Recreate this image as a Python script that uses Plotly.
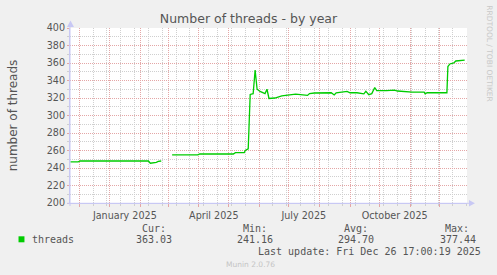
import plotly.graph_objects as go

# ---------------- data ----------------
dates = [
    "2024-11-22", "2024-11-30", "2024-12-02", "2025-01-15", "2025-02-09",
    "2025-02-11", "2025-02-14", "2025-02-17", "2025-02-19", "2025-02-22",
    "2025-02-27",
    "2025-03-05", "2025-03-31", "2025-04-02", "2025-05-06", "2025-05-08",
    "2025-05-17", "2025-05-18", "2025-05-20", "2025-05-21", "2025-05-23",
    "2025-05-26", "2025-05-28", "2025-05-30", "2025-06-02", "2025-06-05",
    "2025-06-07", "2025-06-09", "2025-06-11", "2025-06-17", "2025-06-24",
    "2025-07-08", "2025-07-18", "2025-07-20", "2025-07-22", "2025-07-27",
    "2025-08-13", "2025-08-16", "2025-08-18", "2025-08-29", "2025-09-01",
    "2025-09-08", "2025-09-15", "2025-09-17", "2025-09-20", "2025-09-23",
    "2025-09-26", "2025-09-28", "2025-10-08", "2025-10-16", "2025-10-19",
    "2025-11-03", "2025-11-15", "2025-11-16", "2025-11-18", "2025-12-01",
    "2025-12-08", "2025-12-09", "2025-12-11", "2025-12-15", "2025-12-17",
    "2025-12-26",
]
threads = [
    247, 247, 248, 248, 248,
    245.5, 245.8, 246.5, 247.5, 248,
    None,
    255, 255, 256, 256, 257.5,
    257.5, 260, 261, 262, 324,
    325, 352, 330, 327.5, 326,
    325, 330, 319.5, 320, 322.5,
    324.5, 323.8, 323, 325, 325.7,
    326, 323.5, 326, 327.6, 326,
    326, 324.8, 327.6, 323.8, 325,
    332, 328.4, 328.4, 329, 328,
    326.7, 326.7, 324.8, 326, 326.3,
    326, 356, 358.9, 360, 362.3,
    363.4,
]

month_ticks = [
    "2024-12-01", "2025-01-01", "2025-02-01", "2025-03-01", "2025-04-01",
    "2025-05-01", "2025-06-01", "2025-07-01", "2025-08-01", "2025-09-01",
    "2025-10-01", "2025-11-01", "2025-12-01",
]
month_labels = [
    "", "January 2025", "", "", "April 2025", "", "", "July 2025", "", "",
    "October 2025", "", "",
]
x_range = ["2024-11-21 17:00", "2025-12-28 08:00"]
y_range = [200, 400]

legend_headers = ["Cur:", "Min:", "Avg:", "Max:"]
legend_values = ["363.03", "241.16", "294.70", "377.44"]
series_name = "threads"
last_update = "Last update: Fri Dec 26 17:00:19 2025"
footer = "Munin 2.0.76"
title = "Number of threads - by year"
side_text = "RRDTOOL / TOBI OETIKER"

# ---------------- layout geometry ----------------
W, H = 497, 275
L, R, T, B = 66, 30, 28, 72
PW, PH = W - L - R, H - T - B


def px(x):
    return (x - L) / PW


def py(y):
    return (H - B - y) / PH


BG = "#F0F0F0"
TXT = "#555555"
MAJ = "#E4A6A6"
MIN = "#CFCFCF"
AXC = "#C8C8F4"
GREEN = "#00CC00"
FONT = "DejaVu Sans"
MONO = "DejaVu Sans Mono"

fig = go.Figure()
fig.add_trace(go.Scatter(
    x=dates, y=threads, mode="lines", connectgaps=False,
    line=dict(color=GREEN, width=1.3), hoverinfo="skip", showlegend=False,
))

fig.update_layout(
    width=W, height=H,
    margin=dict(l=L, r=R, t=T, b=B, pad=0),
    paper_bgcolor=BG, plot_bgcolor="#FFFFFF",
    showlegend=False,
    font=dict(family=FONT, color=TXT, size=10),
    title=dict(text=title, x=0.5, xref="paper", xanchor="center",
               y=1 - 19 / H, yref="container", yanchor="middle",
               font=dict(family=FONT, size=12.5, color=TXT)),
)
fig.update_layout(title=dict(xref="container"))

fig.update_xaxes(
    type="date", range=x_range,
    tickmode="array", tickvals=month_ticks, ticktext=month_labels,
    ticklabelshift=15,
    showgrid=True, gridcolor=MAJ, griddash="1px,1px", gridwidth=1,
    ticks="outside", ticklen=3, tickcolor=MAJ, tickwidth=1,
    tickfont=dict(family=FONT, size=9.6, color=TXT),
    showline=True, linecolor=AXC, linewidth=1, zeroline=False,
    minor=dict(dtick=14 * 86400000, tick0="2024-12-01", showgrid=True,
               gridcolor=MIN, griddash="1px,1px", gridwidth=1,
               ticks="outside", ticklen=2, tickcolor=MIN),
)
fig.update_yaxes(
    range=y_range, tick0=200, dtick=20,
    showgrid=True, gridcolor=MAJ, griddash="1px,1px", gridwidth=1,
    ticks="outside", ticklen=2, tickcolor=MAJ,
    tickfont=dict(family=FONT, size=9.6, color=TXT),
    showline=True, linecolor=AXC, linewidth=1, zeroline=False,
    title=dict(text="number of threads", standoff=26,
               font=dict(family=FONT, size=12, color=TXT)),
    minor=dict(dtick=10, tick0=200, showgrid=True, gridcolor=MIN,
               griddash="1px,1px", gridwidth=1, ticks="outside",
               ticklen=2, tickcolor=MIN),
)

shapes = []
# axis extensions and arrows
shapes.append(dict(type="line", xref="paper", yref="paper",
                   x0=px(66), x1=px(66), y0=py(206), y1=py(26),
                   line=dict(color=AXC, width=1)))
shapes.append(dict(type="path", xref="paper", yref="paper",
                   path=f"M {px(63)} {py(27)} L {px(66.5)} {py(20.5)} L {px(70)} {py(27)} Z",
                   fillcolor=AXC, line=dict(width=0)))
shapes.append(dict(type="line", xref="paper", yref="paper",
                   x0=px(63), x1=px(469), y0=py(203.3), y1=py(203.3),
                   line=dict(color=AXC, width=1)))
shapes.append(dict(type="path", xref="paper", yref="paper",
                   path=f"M {px(469)} {py(200)} L {px(475)} {py(203.3)} L {px(469)} {py(206.6)} Z",
                   fillcolor=AXC, line=dict(width=0)))
# legend colour box
shapes.append(dict(type="rect", xref="paper", yref="paper",
                   x0=px(14), x1=px(20), y0=py(242.3), y1=py(236.3),
                   fillcolor=GREEN, line=dict(width=0)))
fig.update_layout(shapes=shapes)

ann = []


def add_text(text, x, y, anchor="left", size=10, family=MONO, color=TXT, angle=0):
    ann.append(dict(text=text, x=px(x), y=py(y), xref="paper", yref="paper",
                    xanchor=anchor, yanchor="middle", showarrow=False,
                    borderpad=0, textangle=angle,
                    font=dict(family=family, size=size, color=color)))


header_right = [164, 266, 368, 470]
value_right = [170, 272.3, 374.3, 477.3]
for h, xr in zip(legend_headers, header_right):
    add_text(h, xr, 228.3, anchor="right")
add_text(series_name, 26.7, 239.3, anchor="left")
for v, xr in zip(legend_values, value_right):
    add_text(v, xr, 239.3, anchor="right")
add_text(last_update, 482.5, 251, anchor="right")
add_text(footer, 248, 264.3, anchor="center", size=7.5, family=FONT, color="#C4C4C4")
add_text(side_text, 489.5, 53.5, anchor="center", size=7.5, family=FONT,
         color="#C8C8C8", angle=90)
fig.update_layout(annotations=ann)

fig.write_html("out.html")
